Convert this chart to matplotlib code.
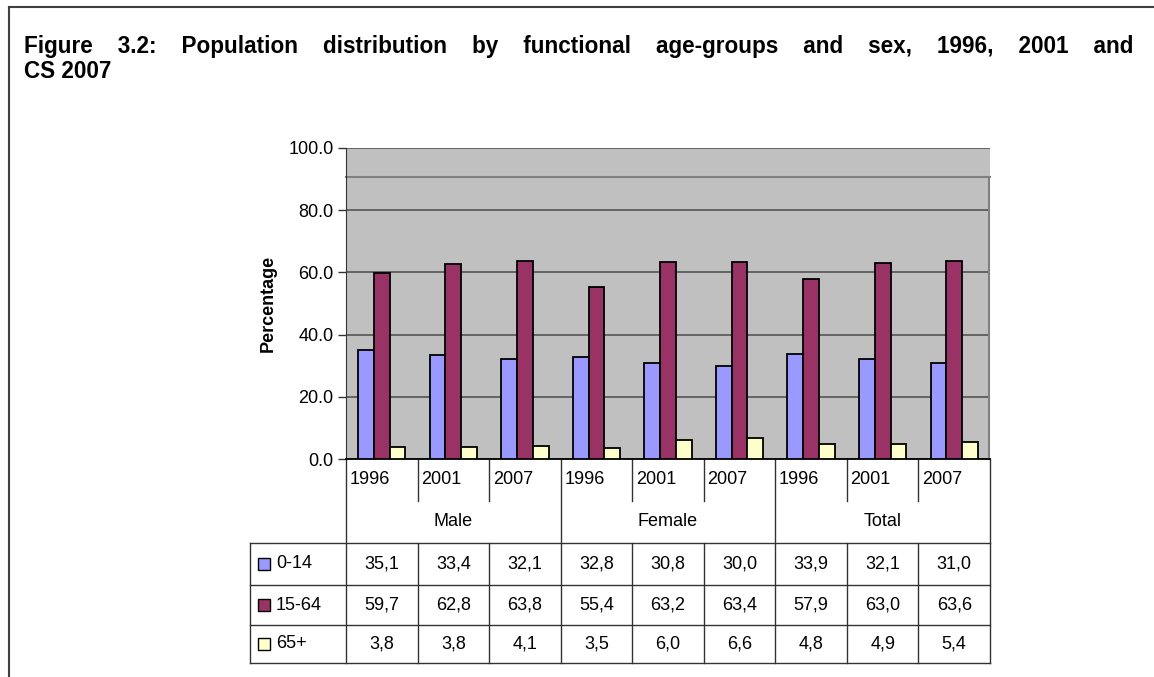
import numpy as np
import matplotlib
matplotlib.use("Agg")
import matplotlib.pyplot as plt
from matplotlib.lines import Line2D
from matplotlib.transforms import blended_transform_factory

plt.rcParams['font.family'] = ['Liberation Sans', 'DejaVu Sans']

# data
years = ['1996', '2001', '2007']
groups = ['Male', 'Female', 'Total']
age_groups = ['0-14', '15-64', '65+']
young = [35.1, 33.4, 32.1, 32.8, 30.8, 30.0, 33.9, 32.1, 31.0]
working = [59.7, 62.8, 63.8, 55.4, 63.2, 63.4, 57.9, 63.0, 63.6]
elderly = [3.8, 3.8, 4.1, 3.5, 6.0, 6.6, 4.8, 4.9, 5.4]
colors = ['#9999FF', '#993366', '#FFFFCC']
title_line1 = "Figure 3.2: Population distribution by functional age-groups and sex, 1996, 2001 and"
title_line2 = "CS 2007"

W, H = 1154, 677
fs = 13

fig = plt.figure(figsize=(W / 100, H / 100), dpi=100)
ax = fig.add_axes([346 / W, 1 - 459 / H, 644 / W, 311 / H])

series = [young, working, elderly]
x = np.arange(len(young))
bw = 0.22
for i, vals in enumerate(series):
    ax.bar(x + (i - 1) * bw, vals, width=bw, color=colors[i],
           edgecolor='black', linewidth=1.3, zorder=3)

ax.set_xlim(-0.5, len(young) - 0.5)
ax.set_ylim(0, 100)
ax.set_facecolor('#C0C0C0')
ax.set_yticks(np.arange(0, 101, 20))
ax.set_yticklabels([f"{v:.1f}" for v in np.arange(0, 101, 20)], fontsize=fs)
ax.set_xticks([])
ax.yaxis.grid(True, color='#555555', linewidth=1.2, zorder=1)
ax.set_axisbelow(True)
ax.tick_params(axis='y', length=6, width=1, color='#333333', pad=3)
for s in ['top', 'right']:
    ax.spines[s].set_visible(False)
ax.spines['left'].set_color('#333333')
ax.spines['bottom'].set_color('black')
ax.spines['bottom'].set_linewidth(1.3)
ax.set_ylabel('Percentage', fontsize=fs, fontweight='bold', labelpad=8)

# odd inner frame of the plot area
ax.plot([-0.5, 8.5], [90.7, 90.7], color='#808080', lw=1.5, zorder=2, clip_on=False)
ax.plot([8.49, 8.49], [0, 90.7], color='#808080', lw=1.5, zorder=2, clip_on=False)

# data table under the chart
tr = blended_transform_factory(ax.transData, ax.transAxes)
ax_h = 311.0
col_w = 644 / 9
r_year = (459 - 501) / ax_h
r_grp = (459 - 543) / ax_h
rows = [(459 - 543) / ax_h, (459 - 585) / ax_h, (459 - 625) / ax_h, (459 - 663) / ax_h]
leg_left = -0.5 - (346 - 250) / col_w
lc = '#333333'
lw = 1.0

def line(xs, ys):
    ax.add_line(Line2D(xs, ys, transform=tr, color=lc, lw=lw, clip_on=False))

n = len(young)
for j in range(n + 1):
    xp = j - 0.5
    if j % 3 == 0:
        line([xp, xp], [0, rows[-1]])
    else:
        line([xp, xp], [0, r_year])
        line([xp, xp], [r_grp, rows[-1]])
line([leg_left, leg_left], [rows[0], rows[-1]])
for ry in rows:
    line([leg_left, n - 0.5], [ry, ry])

for j in range(n):
    ax.text(j - 0.5 + 0.05, r_year / 2, years[j % 3], transform=tr,
            ha='left', va='center', fontsize=fs)
for g, name in enumerate(groups):
    ax.text(g * 3 + 1, (r_year + r_grp) / 2, name, transform=tr,
            ha='center', va='center', fontsize=fs)
for i, vals in enumerate(series):
    ymid = (rows[i] + rows[i + 1]) / 2
    for j, v in enumerate(vals):
        ax.text(j, ymid, f"{v:.1f}".replace('.', ','), transform=tr,
                ha='center', va='center', fontsize=fs)
    ax.plot([leg_left + 14 / col_w], [ymid], marker='s', ms=8.5, mfc=colors[i],
            mec='black', mew=1, transform=tr, clip_on=False)
    ax.text(leg_left + 26 / col_w, ymid, age_groups[i], transform=tr,
            ha='left', va='center', fontsize=fs)

# page frame
fig.add_artist(Line2D([9 / W, 9 / W], [0, 1 - 7 / H], color='#404040', lw=1.5))
fig.add_artist(Line2D([9 / W, 1], [1 - 7 / H, 1 - 7 / H], color='#404040', lw=1.5))

# title: first line stretched to the full width (justified look)
t_left, t_right = 24, 1134
t1 = fig.text(t_left / W, 1 - 53 / H, '    '.join(title_line1.split(' ')),
              fontsize=16, fontweight='bold', va='baseline')
renderer = fig.canvas.get_renderer()
for _ in range(3):
    wd = t1.get_window_extent(renderer).width
    t1.set_fontsize(t1.get_fontsize() * (t_right - t_left) / wd)
fig.text(t_left / W, 1 - 78 / H, title_line2, fontsize=t1.get_fontsize(),
         fontweight='bold', va='baseline')

fig.savefig('out.png', dpi=100)
